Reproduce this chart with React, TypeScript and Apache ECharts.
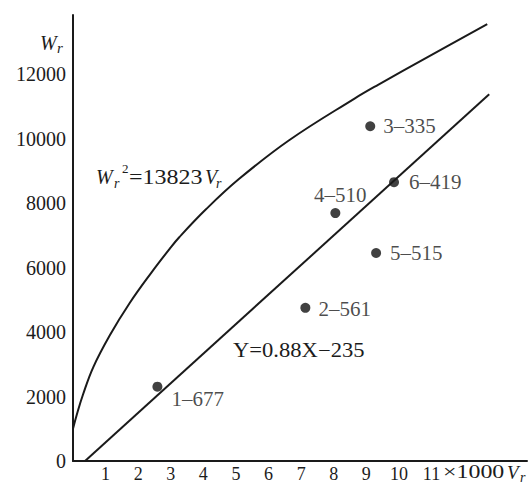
import React, { useEffect, useRef } from "react";
import * as echarts from "echarts";

// ---- data ----
const xTickLabels = [1, 2, 3, 4, 5, 6, 7, 8, 9, 10, 11];
const yTickLabels = [0, 2000, 4000, 6000, 8000, 10000, 12000];

// curve  Wr^2 = 13823 Vr  (V in 1000s)
const curveV = [0, 0.12, 0.31, 0.62, 1.13, 1.74, 2.4, 2.96, 3.26, 4.08, 5.09, 6.62, 8.65, 9.36, 10.88, 12.71];
const curveW = [1000, 1450, 2070, 2908, 3902, 4904, 5840, 6577, 6943, 7810, 8748, 9946, 11255, 11675, 12533, 13555];

// regression line  Y = 0.88X - 235
const lineV = [0.37, 12.77];
const lineW = [0, 11378];

// test points
const pointNames = ["1–677", "2–561", "3–335", "4–510", "5–515", "6–419"];
const pointV = [2.59, 7.13, 9.12, 8.05, 9.3, 9.85];
const pointW = [2307, 4752, 10387, 7694, 6455, 8653];

const FONT = "'Liberation Serif', 'Times New Roman', Times, serif";
const INK = "#1a1a1a";

export default function App() {
  const ref = useRef<HTMLDivElement>(null);

  useEffect(() => {
    if (!ref.current) return;
    const chart = echarts.init(ref.current, null, { renderer: "svg" });

    const labelPos: any[] = [
      { position: "right", distance: 9, offset: [0, 12] },
      { position: "right", distance: 8, offset: [0, 1] },
      { position: "right", distance: 8, offset: [0, 0] },
      { position: "top", distance: 3, offset: [5, 0] },
      { position: "right", distance: 9, offset: [0, 0] },
      { position: "right", distance: 10, offset: [0, 0] },
    ];

    const t = (text: string, x: number, y: number, size: number, opts: any = {}) => ({
      type: "text",
      x,
      y,
      scaleX: opts.scaleX ?? 1,
      style: {
        text,
        fontFamily: FONT,
        fontSize: size,
        fontStyle: opts.italic ? "italic" : "normal",
        fill: "#1c1c1c",
        textVerticalAlign: "middle",
        textAlign: opts.align ?? "left",
      },
    });

    chart.setOption({
      animation: false,
      backgroundColor: "#fff",
      grid: { left: 73, top: 15, right: 0, bottom: 21, containLabel: false },
      xAxis: {
        type: "value",
        min: 0,
        max: 13.93,
        interval: 1,
        axisLine: { show: true, onZero: false, lineStyle: { color: INK, width: 2 } },
        axisTick: { show: false },
        splitLine: { show: false },
        axisLabel: {
          margin: 4,
          fontFamily: FONT,
          fontSize: 18,
          color: "#1c1c1c",
          formatter: (v: number) => (xTickLabels.includes(v) ? String(v) : ""),
        },
      },
      yAxis: {
        type: "value",
        min: 0,
        max: 13840,
        interval: 2000,
        axisLine: { show: true, onZero: false, lineStyle: { color: INK, width: 2 } },
        axisTick: { show: false },
        splitLine: { show: false },
        axisLabel: {
          margin: 7,
          fontFamily: FONT,
          fontSize: 20,
          color: "#1c1c1c",
          formatter: (v: number) => (yTickLabels.includes(v) ? String(v) : ""),
        },
      },
      series: [
        {
          type: "line",
          data: curveV.map((v, i) => [v, curveW[i]]),
          smooth: 0.4,
          symbol: "none",
          lineStyle: { color: INK, width: 2 },
        },
        {
          type: "line",
          data: lineV.map((v, i) => [v, lineW[i]]),
          symbol: "none",
          lineStyle: { color: INK, width: 2 },
        },
        {
          type: "scatter",
          symbolSize: 10,
          itemStyle: { color: "#111" },
          data: pointV.map((v, i) => ({
            value: [v, pointW[i]],
            label: {
              show: true,
              formatter: pointNames[i],
              fontFamily: FONT,
              fontSize: 21,
              color: "#1c1c1c",
              ...labelPos[i],
            },
          })),
        },
      ],
      graphic: [
        // y axis title  W_r
        t("W", 40, 43, 20, { italic: true }),
        t("r", 57, 48, 15, { italic: true }),
        // curve annotation  W_r^2 = 13823 V_r
        t("W", 96, 177, 20, { italic: true }),
        t("r", 114, 183, 14, { italic: true }),
        t("2", 122, 168, 13),
        t("=13823", 129, 177, 20, { scaleX: 1.2 }),
        t("V", 205, 177, 20, { italic: true }),
        t("r", 216, 183, 14, { italic: true }),
        // regression annotation
        t("Y=0.88X−235", 233, 350, 20, { scaleX: 1.13 }),
        // x axis unit
        t("×1000", 443, 472, 18, { scaleX: 1.33 }),
        t("V", 507, 472, 19, { italic: true }),
        t("r", 520, 477, 14, { italic: true }),
      ],
    });

    return () => chart.dispose();
  }, []);

  return (
    <div
      ref={ref}
      style={{ position: "fixed", left: 0, top: 0, width: 530, height: 483, background: "#fff" }}
    />
  );
}
